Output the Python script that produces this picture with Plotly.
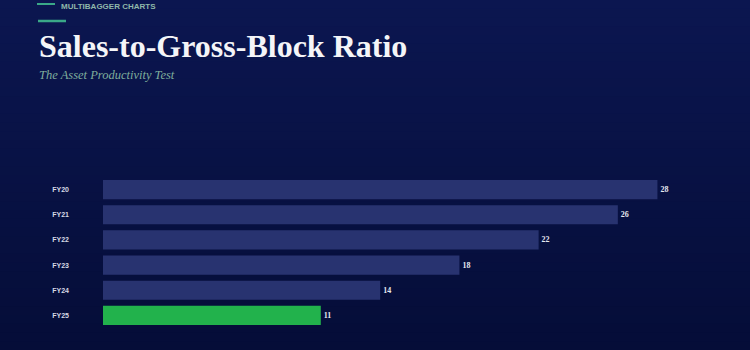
import plotly.graph_objects as go

categories = ["FY20", "FY21", "FY22", "FY23", "FY24", "FY25"]
values = [28, 26, 22, 18, 14, 11]
bar_colors = ["#283370", "#283370", "#283370", "#283370", "#283370", "#22b24c"]

W, H = 750, 350
ML, MR, MT, MB = 103, 10, 177, 22
PH = H - MT - MB


def py(pix):
    # convert pixel y (from top) to paper y
    return (H - MB - pix) / PH


def px(pix):
    return (pix - ML) / (W - ML - MR)


fig = go.Figure()
fig.add_trace(go.Bar(
    y=categories, x=values, orientation="h",
    marker=dict(color=bar_colors, line=dict(width=0)),
    text=[str(v) for v in values], textposition="outside",
    textfont=dict(family="Liberation Serif", size=8, color="#e6e8f0", weight="bold"),
    cliponaxis=False, width=0.76,
))

# background gradient bands
top = (11, 22, 80)
bot = (5, 13, 56)
n = 40
shapes = []
for i in range(n):
    t = i / (n - 1)
    c = tuple(round(top[k] + (bot[k] - top[k]) * t) for k in range(3))
    shapes.append(dict(type="rect", xref="paper", yref="paper",
                       x0=px(0), x1=px(W), y0=py((i + 1) * H / n + 1), y1=py(i * H / n),
                       fillcolor="rgb(%d,%d,%d)" % c, line=dict(width=0), layer="below"))
# accent lines
shapes.append(dict(type="line", xref="paper", yref="paper", x0=px(38), x1=px(66),
                   y0=py(21), y1=py(21), line=dict(color="#3aa888", width=2.5)))
shapes.append(dict(type="line", xref="paper", yref="paper", x0=px(37), x1=px(55),
                   y0=py(4), y1=py(4), line=dict(color="#3aa888", width=2)))

annotations = [
    dict(text="<b>Sales-to-Gross-Block Ratio</b>", xref="paper", yref="paper",
         x=px(37), y=py(46), xanchor="left", yanchor="middle", showarrow=False,
         font=dict(family="Liberation Serif", size=32, color="#f4f5f8")),
    dict(text="<i>The Asset Productivity Test</i>", xref="paper", yref="paper",
         x=px(37), y=py(75), xanchor="left", yanchor="middle", showarrow=False,
         font=dict(family="Liberation Serif", size=12.5, color="#7fae9c")),
    dict(text="<b>MULTIBAGGER CHARTS</b>", xref="paper", yref="paper",
         x=px(59), y=py(0), xanchor="left", yanchor="top", showarrow=False,
         font=dict(family="Liberation Sans", size=8, color="#8fb8aa")),
]

fig.update_layout(
    width=W, height=H,
    margin=dict(l=ML, r=MR, t=MT, b=MB, pad=0),
    paper_bgcolor="#08124a", plot_bgcolor="rgba(0,0,0,0)",
    showlegend=False, bargap=0.24,
    shapes=shapes, annotations=annotations,
    xaxis=dict(range=[0, 32.17], visible=False, fixedrange=True),
    yaxis=dict(autorange="reversed", showgrid=False, zeroline=False, showline=False,
               ticks="", ticklabelstandoff=33,
               tickfont=dict(family="Liberation Sans", size=7, color="#d6d9e4", weight="bold")),
)

fig.write_html("out.html")
